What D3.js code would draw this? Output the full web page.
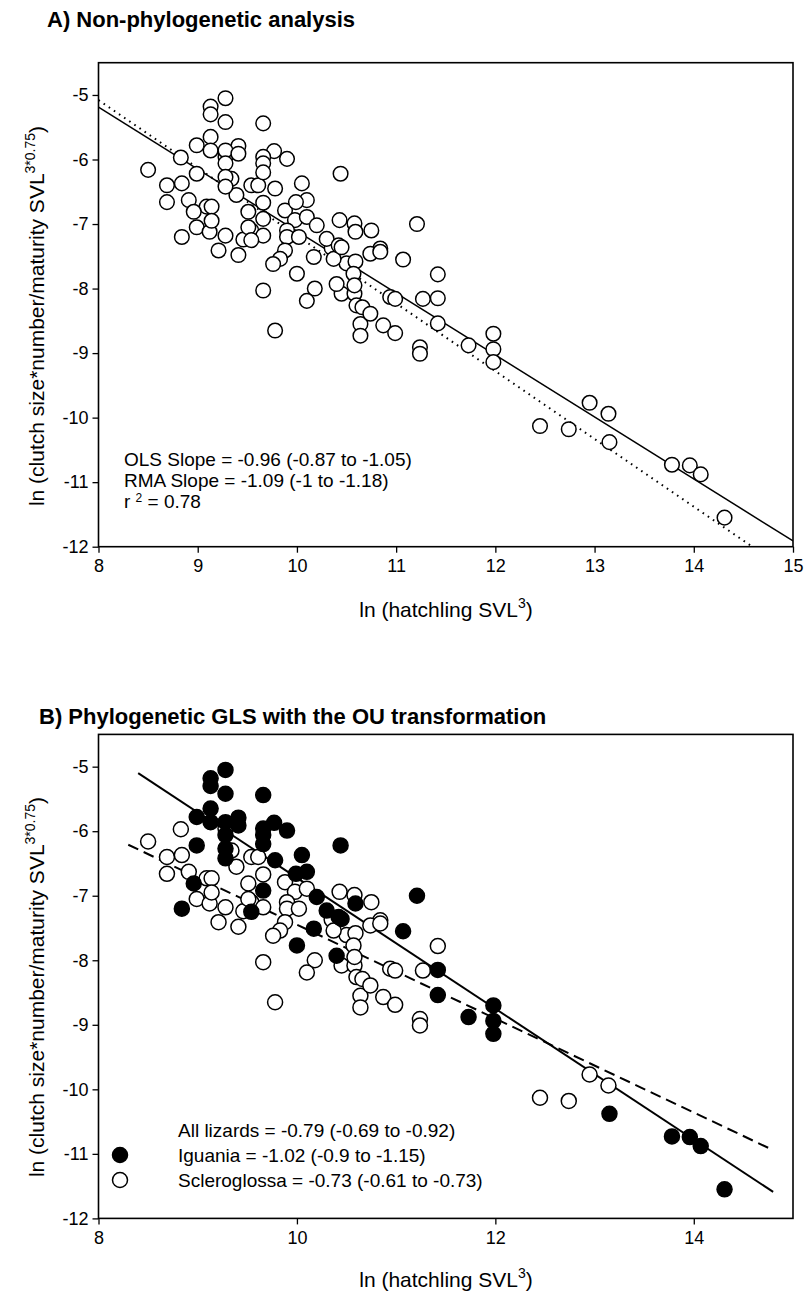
<!DOCTYPE html>
<html><head><meta charset="utf-8">
<script src="https://cdn.jsdelivr.net/npm/d3@7"></script>
<style>
body{margin:0;background:#fff;}
text{font-family:Arial,"Liberation Sans",sans-serif;fill:#000;}
</style></head>
<body><svg id="c" width="804" height="1295"></svg>
<script>
// Iguania (filled in panel B)
const iguaniaX = [9.28,9.13,9.13,9.28,9.66,9.13,8.99,9.41,9.77,9.13,9.28,9.41,9.28,9.66,9.66,9.90,10.44,8.99,9.66,9.28,9.28,9.78,10.05,10.10,9.99,10.20,10.30,10.42,10.17,10.00,10.40,8.84,8.96,9.66,10.59,11.07,11.21,11.42,11.42,11.98,11.98,11.98,11.73,13.15,13.78,13.96,14.07,14.31,10.45,9.54];
const iguaniaY = [-5.05,-5.18,-5.30,-5.42,-5.44,-5.65,-5.78,-5.79,-5.87,-5.86,-5.86,-5.91,-6.06,-5.96,-6.06,-5.99,-6.22,-6.22,-6.20,-6.27,-6.42,-6.45,-6.37,-6.63,-6.66,-7.02,-7.23,-7.33,-7.51,-7.77,-7.93,-7.20,-6.81,-6.92,-7.12,-7.55,-7.00,-8.15,-8.54,-8.70,-8.94,-9.14,-8.88,-10.38,-10.73,-10.74,-10.88,-11.55,-7.36,-7.25];
// Scleroglossa (open in panel B)
const scleroX = [8.50,8.83,8.69,8.84,8.69,8.91,9.09,9.14,8.99,9.12,9.28,9.21,9.41,9.34,9.39,9.51,9.66,9.54,9.54,9.66,9.46,9.88,9.98,9.90,9.90,10.02,9.88,9.83,9.76,9.66,10.18,10.10,9.78,10.43,10.58,10.35,10.50,10.45,10.58,10.60,10.64,10.64,10.75,10.84,10.74,10.59,11.42,11.27,10.94,10.99,10.66,10.74,10.87,10.99,11.24,11.24,12.95,13.14,12.45,12.74,9.28,9.61,10.37,10.57,10.58,10.84,10.10,9.14,9.51];
const scleroY = [-6.16,-5.97,-6.40,-6.37,-6.66,-6.63,-6.73,-6.73,-7.05,-7.12,-7.18,-7.41,-7.48,-6.30,-6.55,-6.81,-6.67,-6.40,-7.10,-7.18,-7.24,-6.79,-6.94,-7.10,-7.20,-7.20,-7.41,-7.54,-7.62,-8.03,-8.00,-8.19,-8.65,-6.94,-6.99,-7.37,-7.61,-8.08,-8.08,-8.26,-8.55,-8.73,-7.10,-7.38,-7.46,-7.58,-7.78,-8.16,-8.13,-8.16,-8.29,-8.39,-8.57,-8.69,-8.91,-9.01,-9.77,-9.94,-10.13,-10.18,-5.96,-6.40,-7.54,-7.77,-7.95,-7.43,-6.89,-6.95,-7.05];
// regression lines: [x start, x end, y at x start, slope]
const olsLine = [8, 15, -5.19, -0.96];
const rmaLine = [8, 14.59, -5.08, -1.05];
const iguaniaLine = [8.40, 14.8, -5.10, -1.014];
const allLine = [8.30, 14.8, -6.21, -0.728];
const xTicksA = [8,9,10,11,12,13,14,15];
const xTicksB = [8,10,12,14];
const yTicks = [-12,-11,-10,-9,-8,-7,-6,-5];
const annotA = ["OLS Slope = -0.96 (-0.87 to -1.05)","RMA Slope = -1.09 (-1 to -1.18)"];
const legendB = ["All lizards = -0.79 (-0.69 to -0.92)","Iguania = -1.02 (-0.9 to -1.15)","Scleroglossa = -0.73 (-0.61 to -0.73)"];

const svg = d3.select("#c");
const iguana = iguaniaX.map((x,i)=>({x, y: iguaniaY[i], g:"I"}));
const scler = scleroX.map((x,i)=>({x, y: scleroY[i], g:"S"}));
const all = scler.concat(iguana);

function lineData(L){ return [[L[0], L[2]], [L[1], L[2] + L[3]*(L[1]-L[0])]]; }

function panel(top, xTicks, id){
  const x = d3.scaleLinear().domain([8,15]).range([98.5,793]);
  const y = d3.scaleLinear().domain([-12,-4.5]).range([top+484, top]);
  const g = svg.append("g");
  g.append("clipPath").attr("id",id).append("rect")
    .attr("x",98.5).attr("y",top).attr("width",793-98.5).attr("height",484);
  const xa = g.append("g").attr("transform",`translate(0,${top+484})`)
    .call(d3.axisBottom(x).tickValues(xTicks).tickFormat(d3.format("d")).tickSizeInner(6).tickSizeOuter(0).tickPadding(7));
  const ya = g.append("g").attr("transform",`translate(98.5,0)`)
    .call(d3.axisLeft(y).tickValues(yTicks).tickFormat(d=>d.toString().replace("\u2212","-")).tickSizeInner(6).tickSizeOuter(0).tickPadding(4));
  [xa,ya].forEach(a=>{ a.select(".domain").remove(); a.selectAll("line").attr("stroke","#000").attr("stroke-width",1.3);
    a.selectAll("text").attr("font-size",18).attr("font-family","Arial, 'Liberation Sans', sans-serif"); });
  g.append("rect").attr("x",98.5).attr("y",top).attr("width",793-98.5).attr("height",484)
    .attr("fill","none").attr("stroke","#000").attr("stroke-width",1.6);
  return {x,y,g,plot:g.append("g").attr("clip-path",`url(#${id})`)};
}

function yTitle(g, cy){
  const t = g.append("text").attr("transform",`translate(44,${cy}) rotate(-90)`).attr("text-anchor","middle").attr("font-size",21);
  t.append("tspan").text("ln (clutch size*number/maturity SVL");
  t.append("tspan").attr("font-size",14).attr("dy",-9).text("3*0.75");
  t.append("tspan").attr("dy",9).text(")");
}
function xTitle(g, cy){
  const t = g.append("text").attr("x",446).attr("y",cy).attr("text-anchor","middle").attr("font-size",21);
  t.append("tspan").text("ln (hatchling SVL");
  t.append("tspan").attr("font-size",14).attr("dy",-9).text("3");
  t.append("tspan").attr("dy",9).text(")");
}

// Panel A
const A = panel(62.7, xTicksA, "clipA");
svg.append("text").attr("x",47).attr("y",27).attr("font-size",22).attr("font-weight","bold").text("A) Non-phylogenetic analysis");
const ln = (s)=>d3.line().x(d=>s.x(d[0])).y(d=>s.y(d[1]));
A.plot.append("path").datum(lineData(olsLine)).attr("d",ln(A)).attr("fill","none").attr("stroke","#000").attr("stroke-width",1.5);
A.plot.append("path").datum(lineData(rmaLine)).attr("d",ln(A)).attr("fill","none").attr("stroke","#000").attr("stroke-width",2).attr("stroke-dasharray","1.6,4.6");
A.plot.selectAll("circle").data(all).join("circle")
  .attr("cx",d=>A.x(d.x)).attr("cy",d=>A.y(d.y)).attr("r",7.3)
  .attr("fill","#fff").attr("stroke","#000").attr("stroke-width",1.5);
annotA.forEach((s,i)=>A.g.append("text").attr("x",124).attr("y",466+i*21).attr("font-size",19).text(s));
const r2 = A.g.append("text").attr("x",124).attr("y",508).attr("font-size",19);
r2.append("tspan").text("r ");
r2.append("tspan").attr("font-size",12).attr("dy",-6).text("2");
r2.append("tspan").attr("dy",6).text(" = 0.78");
yTitle(svg, 316);
xTitle(svg, 617);

// Panel B
const B = panel(734.4, xTicksB, "clipB");
svg.append("text").attr("x",39).attr("y",724).attr("font-size",22).attr("font-weight","bold").text("B) Phylogenetic GLS with the OU transformation");
B.plot.append("path").datum(lineData(iguaniaLine)).attr("d",ln(B)).attr("fill","none").attr("stroke","#000").attr("stroke-width",2);
B.plot.append("path").datum(lineData(allLine)).attr("d",ln(B)).attr("fill","none").attr("stroke","#000").attr("stroke-width",2).attr("stroke-dasharray","11,6");
B.plot.selectAll("circle").data(all).join("circle")
  .attr("cx",d=>B.x(d.x)).attr("cy",d=>B.y(d.y)).attr("r",7.5)
  .attr("fill",d=>d.g==="I"?"#000":"#fff").attr("stroke","#000").attr("stroke-width",1.5);
legendB.forEach((s,i)=>B.g.append("text").attr("x",178).attr("y",1137+i*25).attr("font-size",19).text(s));
B.g.append("circle").attr("cx",120).attr("cy",1155).attr("r",7.5).attr("fill","#000").attr("stroke","#000").attr("stroke-width",1.5);
B.g.append("circle").attr("cx",120).attr("cy",1180).attr("r",7.5).attr("fill","#fff").attr("stroke","#000").attr("stroke-width",1.5);
yTitle(svg, 987);
xTitle(svg, 1287);
</script></body></html>
